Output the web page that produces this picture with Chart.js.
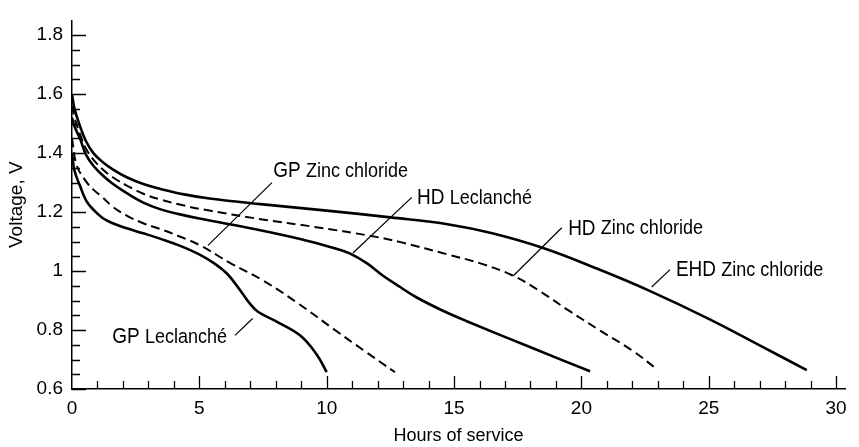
<!DOCTYPE html>
<html>
<head>
<meta charset="utf-8">
<script src="https://cdn.jsdelivr.net/npm/chart.js@4"></script>
<style>
  html, body { margin: 0; padding: 0; background: #fff; }
</style>
</head>
<body>
<canvas id="chart" width="859" height="447"></canvas>
<script>
// curve data: hours of service vs voltage
const hoursEhdZn = [0, 0.1, 0.3, 0.55, 0.84, 1.2, 1.6, 2.15, 2.8, 3.45, 4.4, 5.4, 7.4, 10, 12.5, 14.8, 16.5, 18.5, 20.7, 22.7, 25, 27, 28.85];
const voltsEhdZn = [1.60, 1.55, 1.495, 1.44, 1.40, 1.37, 1.345, 1.318, 1.295, 1.279, 1.26, 1.246, 1.227, 1.205, 1.182, 1.158, 1.128, 1.078, 1.005, 0.932, 0.838, 0.748, 0.664];

const hoursHdZn = [0, 0.1, 0.31, 0.55, 0.84, 1.2, 1.6, 2.15, 2.8, 3.45, 4.4, 5.4, 7.4, 9.5, 11.8, 12.9, 14.8, 16, 17.3, 18.4, 19.4, 20.7, 22, 22.96];
const voltsHdZn = [1.56, 1.52, 1.465, 1.415, 1.378, 1.345, 1.318, 1.29, 1.262, 1.243, 1.222, 1.205, 1.176, 1.15, 1.118, 1.098, 1.055, 1.027, 0.985, 0.93, 0.872, 0.80, 0.73, 0.668];

const hoursHdLec = [0, 0.1, 0.31, 0.55, 0.84, 1.2, 1.6, 2.15, 2.8, 3.45, 4.2, 5, 7.2, 9, 10.2, 10.9, 11.6, 12.2, 12.9, 13.5, 14.5, 15.5, 18.1, 20.34];
const voltsHdLec = [1.52, 1.49, 1.45, 1.395, 1.357, 1.325, 1.296, 1.264, 1.232, 1.21, 1.193, 1.178, 1.142, 1.108, 1.08, 1.06, 1.025, 0.985, 0.945, 0.912, 0.868, 0.83, 0.738, 0.66];

const hoursGpZn = [0, 0.18, 0.5, 0.84, 1.2, 1.6, 2.15, 2.8, 3.45, 4.2, 5.03, 6.2, 7.5, 8.8, 10.26, 11.5, 12.68];
const voltsGpZn = [1.45, 1.36, 1.31, 1.276, 1.25, 1.218, 1.188, 1.162, 1.143, 1.118, 1.087, 1.028, 0.968, 0.895, 0.804, 0.728, 0.657];

const hoursGpLec = [0, 0.1, 0.31, 0.55, 0.84, 1.2, 1.6, 2.15, 2.8, 3.45, 4.2, 5.03, 5.6, 6.1, 6.6, 7.0, 7.3, 8.0, 8.95, 9.6, 10];
const voltsGpLec = [1.40, 1.34, 1.29, 1.24, 1.208, 1.18, 1.162, 1.145, 1.128, 1.11, 1.087, 1.055, 1.025, 0.99, 0.935, 0.888, 0.862, 0.83, 0.782, 0.718, 0.657];

// axis ticks
const xTickValues = [0, 5, 10, 15, 20, 25, 30];
const yTickValues = [0.6, 0.8, 1.0, 1.2, 1.4, 1.6, 1.8];

// curve labels (prefix, rest) and leader lines, in data units
const labelPrefix = ['GP', 'HD', 'HD', 'EHD', 'GP'];
const labelRest = ['Zinc chloride', 'Leclanché', 'Zinc chloride', 'Zinc chloride', 'Leclanché'];
const labelHours = [7.9, 13.55, 19.48, 23.71, 6.09];
const labelVolts = [1.339, 1.248, 1.144, 1.002, 0.777];
const labelAlign = ['left', 'left', 'left', 'left', 'right'];
const leaderHours = [[5.34, 7.85], [11.03, 13.34], [17.33, 19.23], [22.76, 23.48], [6.4, 7.09]];
const leaderVolts = [[1.087, 1.30], [1.061, 1.25], [0.984, 1.147], [0.946, 1.005], [0.782, 0.839]];

const FONT = "'Liberation Sans', Arial, Helvetica, sans-serif";
Chart.defaults.font.family = FONT;
Chart.defaults.color = '#000';

function toPoints(xs, ys) {
    return xs.map((x, i) => ({ x: x, y: ys[i] }));
}

function curve(xs, ys, dashed) {
    return {
        data: toPoints(xs, ys),
        borderColor: '#000',
        borderWidth: dashed ? 2 : 2.6,
        borderDash: dashed ? [9, 5] : [],
        pointRadius: 0,
        fill: false,
        tension: 0.4
    };
}

const datasets = [
    curve(hoursEhdZn, voltsEhdZn, false),
    curve(hoursHdZn, voltsHdZn, true),
    curve(hoursHdLec, voltsHdLec, false),
    curve(hoursGpZn, voltsGpZn, true),
    curve(hoursGpLec, voltsGpLec, false)
];

leaderHours.forEach((hs, i) => {
    datasets.push({
        data: toPoints(hs, leaderVolts[i]),
        borderColor: '#000',
        borderWidth: 1.2,
        pointRadius: 0,
        fill: false,
        tension: 0
    });
});

// inward minor/major ticks on both axes
const tickMarks = {
    id: 'tickMarks',
    afterDatasetsDraw(chart) {
        const ctx = chart.ctx;
        const xs = chart.scales.x, ys = chart.scales.y;
        const area = chart.chartArea;
        ctx.save();
        ctx.strokeStyle = '#000';
        ctx.lineWidth = 1.3;
        ctx.beginPath();
        for (let i = 12; i <= 36; i++) {
            const py = Math.round(ys.getPixelForValue(i * 0.05)) + 0.5;
            const len = i % 4 === 0 ? 14 : 8;
            ctx.moveTo(area.left, py);
            ctx.lineTo(area.left + len, py);
        }
        for (let i = 1; i <= 30; i++) {
            const px = Math.round(xs.getPixelForValue(i)) + 0.5;
            const len = i % 5 === 0 ? 13 : 8;
            ctx.moveTo(px, area.bottom);
            ctx.lineTo(px, area.bottom - len);
        }
        ctx.stroke();
        ctx.restore();
    }
};

// curve names next to the leader lines (scan is slightly taller than wide)
const curveLabels = {
    id: 'curveLabels',
    afterDatasetsDraw(chart) {
        const ctx = chart.ctx;
        const xs = chart.scales.x, ys = chart.scales.y;
        labelPrefix.forEach((pre, i) => {
            const px = xs.getPixelForValue(labelHours[i]);
            const py = ys.getPixelForValue(labelVolts[i]);
            const fPre = '19px ' + FONT;
            const fRest = '18px ' + FONT;
            ctx.save();
            ctx.fillStyle = '#000';
            ctx.textBaseline = 'middle';
            ctx.textAlign = 'left';
            ctx.font = fPre;
            const wPre = ctx.measureText(pre + ' ').width;
            ctx.font = fRest;
            const wRest = ctx.measureText(labelRest[i]).width;
            const start = labelAlign[i] === 'right' ? px - wPre - wRest : px;
            ctx.translate(start, py);
            ctx.scale(1, 1.15);
            ctx.font = fPre;
            ctx.fillText(pre, 0, 0);
            ctx.font = fRest;
            ctx.fillText(labelRest[i], wPre, 0);
            ctx.restore();
        });
    }
};

new Chart(document.getElementById('chart'), {
    type: 'line',
    data: { datasets: datasets },
    options: {
        responsive: false,
        animation: false,
        layout: { padding: { top: 7, right: 14, left: 0, bottom: 0 } },
        plugins: {
            legend: { display: false },
            tooltip: { enabled: false }
        },
        scales: {
            x: {
                type: 'linear',
                min: 0,
                max: 30.35,
                afterBuildTicks: (s) => { s.ticks = xTickValues.map(v => ({ value: v })); },
                afterFit: (s) => { s.height = 58; },
                grid: { display: false, drawTicks: false },
                border: { display: true, color: '#000', width: 1.5 },
                ticks: { padding: 8, font: { size: 19 }, color: '#000', maxRotation: 0 },
                title: { display: true, text: 'Hours of service', font: { size: 18 }, color: '#000', padding: { top: 0, bottom: 0 } }
            },
            y: {
                type: 'linear',
                min: 0.6,
                max: 1.85,
                afterBuildTicks: (s) => { s.ticks = yTickValues.map(v => ({ value: v })); },
                afterFit: (s) => { s.width = 72; },
                grid: { display: false, drawTicks: false },
                border: { display: true, color: '#000', width: 1.5 },
                ticks: {
                    padding: 9,
                    font: { size: 19 },
                    color: '#000',
                    callback: (v) => Math.abs(v - 1) < 1e-9 ? '1' : v.toFixed(1)
                },
                title: { display: true, text: 'Voltage, V', font: { size: 19 }, color: '#000', padding: { top: 5, bottom: 0 } }
            }
        }
    },
    plugins: [tickMarks, curveLabels]
});
</script>
</body>
</html>
